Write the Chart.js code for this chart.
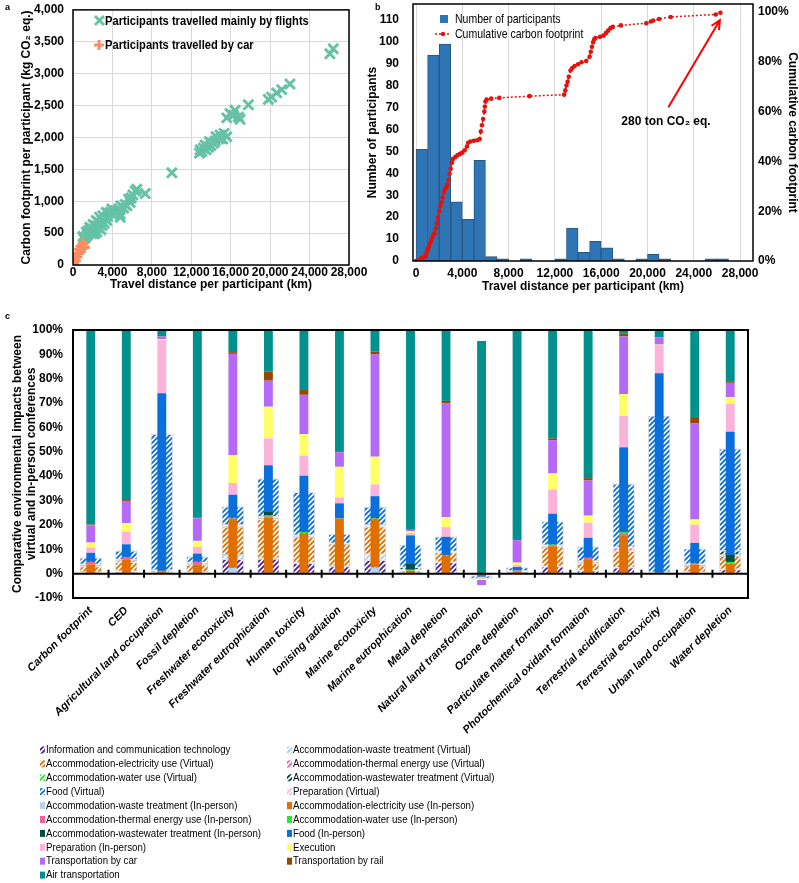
<!DOCTYPE html>
<html>
<head>
<meta charset="utf-8">
<title>Conference travel and environmental impacts</title>
<script src="https://cdn.jsdelivr.net/npm/chart.js@4.4.1/dist/chart.umd.min.js"></script>
<style>
  html, body { margin: 0; padding: 0; background: #fff; }
  body { position: relative; width: 799px; height: 883px; overflow: hidden; }
  canvas { position: absolute; }
  #chartA { left: 0; top: 0; }
  #chartB { left: 350px; top: 0; }
  #chartC { left: 0; top: 300px; }
</style>
</head>
<body>
<canvas id="chartC" width="799" height="583"></canvas>
<canvas id="chartA" width="392" height="300"></canvas>
<canvas id="chartB" width="449" height="300"></canvas>
<script>
// ---------- panel a : footprint per participant vs distance ----------
const flightKm = [26400, 26060, 22010, 21170, 20660, 20150, 19820, 17790, 16950, 16440, 16270, 15930, 15600, 16780,
  15600, 15330, 15190, 14920, 14750, 14420, 14250, 13980, 13740, 13500, 13230, 13070, 12830, 12900, 13400, 13840,
  14520, 14990, 10030, 7330, 6310, 6480, 6080, 5900, 5810, 5640, 5470, 5300, 5130, 4790, 4790, 4460, 4120, 3780,
  3510, 3270, 2940, 2770, 2600, 2430, 2260, 2090, 1920, 1760, 1590, 1420, 1250, 1080, 1010, 1350, 1690, 2030, 2360,
  2700, 3040, 3380, 3950, 4290, 4620, 4860, 1590, 1920, 2260, 2600, 2940, 3170, 2190, 2430, 2840, 3440];
const flightKg = [3390, 3313, 2838, 2750, 2699, 2632, 2596, 2513, 2286, 2425, 2348, 2374, 2307, 2322,
  2012, 2064, 1976, 2038, 1976, 1945, 1909, 1873, 1847, 1806, 1832, 1780, 1754, 1806, 1883, 1935,
  2012, 1986, 1445, 1120, 1161, 1187, 1099, 1050, 980, 1032, 929, 950, 893, 800, 749, 841, 774, 826,
  759, 722, 697, 645, 671, 593, 619, 542, 568, 516, 490, 464, 428, 413, 449, 516, 593, 635, 697,
  748, 774, 826, 877, 851, 877, 929, 542, 490, 542, 593, 619, 655, 490, 516, 552, 697];
const carKm = [70, 240, 400, 570, 680, 810, 1010, 1150, 910];
const carKg = [26, 67, 129, 181, 243, 294, 335, 273, 258];
const distTicks = [0, 4000, 8000, 12000, 16000, 20000, 24000, 28000];
const co2Ticks = [0, 500, 1000, 1500, 2000, 2500, 3000, 3500, 4000];

// ---------- panel b : histogram + cumulative footprint ----------
const binKm = [500, 1500, 2500, 3500, 4500, 5500, 6500, 7500, 9500, 12500, 13500, 14500, 15500, 16500, 17500,
  19500, 20500, 21500, 25500, 26500];
const binCount = [51, 94, 99, 27, 19, 46, 2, 1, 1, 1, 15, 4, 9, 6, 1, 1, 3, 1, 1, 1];
const cumKm = [0, 300, 500, 700, 800, 900, 1000, 1100, 1200, 1300, 1400, 1500, 1600, 1700, 1800, 1900, 2000,
  2100, 2200, 2300, 2400, 2500, 2600, 2700, 2800, 2900, 3000, 3100, 3200, 3400, 3600, 3800, 4000, 4200, 4400,
  4500, 4700, 5000, 5300, 5500, 5600, 5700, 5800, 5900, 5950, 6000, 6100, 6500, 7200, 9800, 12800, 12900, 13000,
  13100, 13200, 13350, 13500, 13700, 14000, 14300, 14700, 15000, 15100, 15200, 15300, 15400, 15500, 15900,
  16200, 16400, 16600, 16800, 17000, 17700, 19900, 20300, 20500, 21000, 22000, 25900, 26300];
const cumShare = [0, 0.5, 1.2, 1.5, 2.0, 3.2, 4.5, 5.5, 7, 8, 9.5, 10.5, 11, 13, 15, 17.5, 20,
  22, 23.5, 25.5, 27.5, 28.8, 29.5, 30.5, 32.5, 35, 37, 39.5, 41, 41.8, 42.5, 43, 43.5, 44.5, 46,
  47.5, 48, 48.3, 48.5, 49, 52, 54.5, 57, 60, 62, 64, 64.8, 65.2, 65.5, 66.2, 66.8, 68.5, 70.5,
  72, 74, 76.5, 77.5, 78.3, 79, 79.8, 80.3, 82, 84, 86, 87.8, 89, 89.5, 90,
  90.5, 91.5, 92.5, 93.5, 94, 94.6, 95.5, 96.2, 96.6, 97.2, 98, 99, 99.7];
const countTicks = [0, 10, 20, 30, 40, 50, 60, 70, 80, 90, 100, 110];
const shareTicks = [0, 20, 40, 60, 80, 100];

// ---------- panel c : virtual vs in-person, share of in-person total (%) ----------
const impactCategories = ['Carbon footprint', 'CED', 'Agricultural land occupation', 'Fossil depletion',
  'Freshwater ecotoxicity', 'Freshwater eutrophication', 'Human toxicity', 'Ionising radiation',
  'Marine ecotoxicity', 'Marine eutrophication', 'Metal depletion', 'Natural land transformation',
  'Ozone depletion', 'Particulate matter formation', 'Photochemical oxidant formation',
  'Terrestrial acidification', 'Terrestrial ecotoxicity', 'Urban land occupation', 'Water depletion'];
const pctTicks = [-10, 0, 10, 20, 30, 40, 50, 60, 70, 80, 90, 100];

// virtual conference
const ictV        = [0.6, 0.8, 0.2, 0.5, 5.9, 6.0, 4.3, 3.0, 5.5, 0.2, 4.6, -0.1, 0.2, 2.8, 1.2, 2.4, 0.1, 0.4, 1.7];
const wasteV      = [0.1, 0.2, 0.05, 0.1, 1.8, 0.3, 0.2, 0.1, 2.4, 0.1, 0.1, -0.05, 0.05, 0.1, 0.1, 0.1, 0.05, 0.1, 0.1];
const elecV       = [2.3, 3.7, 1.0, 3.0, 11.5, 15.9, 10.6, 9.1, 11.4, 0.9, 4.0, -0.6, 0.6, 8.1, 2.9, 6.7, 0.2, 2.6, 5.4];
const thermalV    = [0.6, 0.9, 0.1, 0.9, 0.6, 0.6, 0.4, 0.1, 0.5, 0.1, 0.3, -0.1, 0.2, 0.3, 0.8, 1.4, 0.05, 0.4, 0.2];
const waterV      = [0.05, 0.05, 0.05, 0.05, 0.1, 0.2, 0.1, 0.05, 0.1, 0.3, 0.05, 0, 0.05, 0.2, 0.1, 0.1, 0.05, 0.1, 0.2];
const wastewaterV = [0.05, 0.1, 0.05, 0.05, 0.1, 0.3, 0.1, 0.05, 0.1, 1.0, 0.05, 0, 0.05, 0.1, 0.1, 0.1, 0.05, 0.2, 1.8];
const foodV       = [2.7, 3.6, 55.8, 2.4, 7.5, 15.7, 17.7, 3.8, 7.3, 9.2, 6.0, -1.2, 1.4, 9.8, 5.8, 26.0, 64.2, 6.4, 41.8];
const prepV       = [0.2, 0.3, 0.3, 0.2, 0.2, 0.3, 0.2, 0.1, 0.2, 0.1, 0.2, -0.05, 0.1, 0.1, 0.2, 0.2, 0.1, 0.1, 0.2];

// in-person conference
const wasteP      = [0.2, 0.2, 0.1, 0.2, 2.4, 0.3, 0.3, 0.1, 2.6, 0.1, 0.1, 0, 0.1, 0.2, 0.1, 0.1, 0.05, 0.1, 0.1];
const elecP       = [3.6, 5.6, 0.8, 3.5, 20.0, 22.8, 16.0, 22.4, 19.7, 1.0, 7.1, -0.6, 0.8, 11.0, 5.6, 15.3, 0.2, 3.6, 3.8];
const thermalP    = [1.0, 0.9, 0.1, 1.1, 0.2, 0.3, 0.2, 0.05, 0.2, 0.1, 0.1, 0, 0.3, 0.2, 0.7, 1.0, 0.05, 0.2, 0.2];
const waterP      = [0.05, 0.05, 0.05, 0.05, 0.3, 0.5, 0.6, 0.05, 0.3, 0.4, 0.2, 0, 0.05, 0.5, 0.1, 0.7, 0.05, 0.3, 0.7];
const wastewaterP = [0.1, 0.1, 0.1, 0.1, 0.1, 1.4, 0.1, 0.05, 0.2, 2.4, 0.2, 0, 0.05, 0.1, 0.1, 0.05, 0.05, 0.3, 3.0];
const foodP       = [3.6, 5.2, 72.9, 3.3, 9.4, 19.2, 23.0, 6.2, 8.8, 11.7, 7.4, -0.6, 1.4, 12.6, 8.1, 34.7, 81.8, 8.1, 50.4];
const prepP       = [2.2, 5.1, 21.9, 2.7, 4.8, 11.0, 8.2, 2.4, 4.8, 1.0, 4.0, -0.7, 0.8, 9.9, 6.2, 12.9, 11.6, 7.5, 11.6];
const execP       = [2.0, 3.6, 0.3, 2.5, 11.4, 13.0, 8.8, 12.6, 11.4, 0.7, 4.0, -0.6, 1.0, 6.6, 2.9, 8.9, 0.2, 2.1, 2.7];
const carP        = [7.1, 9.1, 1.0, 9.3, 41.6, 10.7, 16.2, 5.9, 42.0, 0.6, 46.8, -2.2, 9.2, 13.7, 14.4, 23.7, 3.0, 39.4, 5.8];
const railP       = [0.3, 0.4, 0.1, 0.3, 0.7, 3.7, 2.0, 0.5, 1.1, 0.05, 1.0, 0, 0.05, 0.7, 1.0, 1.1, 0.1, 2.3, 0.4];
const airP        = [79.9, 69.8, 2.6, 76.9, 9.1, 17.1, 24.6, 49.8, 8.9, 81.9, 29.1, 95.5, 86.2, 44.5, 60.8, 1.6, 2.9, 36.1, 21.3];

// ---------- shared look ----------
const SANS = '"Liberation Sans", Arial, Helvetica, sans-serif';
Chart.defaults.font.family = SANS;
Chart.defaults.color = '#000';
Chart.defaults.animation = false;

const FLIGHT_GREEN = '#66C2A5';
const CAR_ORANGE = '#FC8D62';
const BAR_BLUE = '#2E75B6';
const BAR_EDGE = '#2A5782';
const CUM_RED = '#E3120B';
const GRID = '#d9d9d9';
const tickFont = { size: 12, weight: 'bold' };
const titleFont = { size: 12, weight: 'bold' };

const fmt = v => v.toLocaleString('en-US');
const useTicks = list => scale => { scale.ticks = list.map(value => ({ value })); };

// fixed axis box sizes so the plot areas line up with the original figure
function fitBox(width, height) {
  return scale => {
    if (width !== null) scale.width = width;
    if (height !== null) scale.height = height;
    scale.paddingLeft = scale.paddingRight = scale.paddingTop = scale.paddingBottom = 0;
  };
}

// the original uses a condensed face for legends
function narrowText(ctx, text, x, y, size, weight) {
  ctx.save();
  ctx.translate(x, y);
  ctx.scale(0.82, 1);
  ctx.font = `${weight} ${size}px ${SANS}`;
  ctx.textBaseline = 'middle';
  ctx.fillStyle = '#000';
  ctx.fillText(text, 0, 0);
  ctx.restore();
}

const frame = {
  id: 'frame',
  afterDraw(chart, args, opts) {
    const { ctx, chartArea: a } = chart;
    ctx.save();
    ctx.strokeStyle = '#000';
    ctx.lineWidth = opts.width;
    ctx.strokeRect(a.left, a.top, a.width, a.height);
    ctx.font = `bold 9px ${SANS}`;
    ctx.textBaseline = 'middle';
    ctx.fillStyle = '#000';
    ctx.fillText(opts.letter, opts.letterX, opts.letterY);
    ctx.restore();
  }
};

// ---------- panel a ----------
const legendA = {
  id: 'legendA',
  afterDraw(chart) {
    const { ctx } = chart;
    ctx.save();
    ctx.lineWidth = 2.8;
    ctx.strokeStyle = FLIGHT_GREEN;
    ctx.beginPath();
    ctx.moveTo(95, 16); ctx.lineTo(104, 25);
    ctx.moveTo(104, 16); ctx.lineTo(95, 25);
    ctx.stroke();
    ctx.strokeStyle = CAR_ORANGE;
    ctx.lineWidth = 3;
    ctx.beginPath();
    ctx.moveTo(94, 45); ctx.lineTo(104, 45);
    ctx.moveTo(99, 40); ctx.lineTo(99, 50);
    ctx.stroke();
    ctx.restore();
    narrowText(ctx, 'Participants travelled mainly by flights', 105, 21, 13.6, 'bold');
    narrowText(ctx, 'Participants travelled by car', 105, 45, 13.6, 'bold');
  }
};

new Chart(document.getElementById('chartA'), {
  type: 'scatter',
  data: {
    datasets: [
      {
        label: 'Participants travelled by car',
        data: carKm.map((x, i) => ({ x, y: carKg[i] })),
        pointStyle: 'cross', pointRadius: 5.5, pointBorderWidth: 3,
        pointBorderColor: CAR_ORANGE, pointBackgroundColor: CAR_ORANGE, order: 0
      },
      {
        label: 'Participants travelled mainly by flights',
        data: flightKm.map((x, i) => ({ x, y: flightKg[i] })),
        pointStyle: 'crossRot', pointRadius: 7, pointBorderWidth: 2.9,
        pointBorderColor: FLIGHT_GREEN, pointBackgroundColor: FLIGHT_GREEN, order: 1
      }
    ]
  },
  options: {
    responsive: false,
    events: [],
    layout: { padding: { left: 0, top: 3, right: 43, bottom: 0 } },
    plugins: {
      legend: { display: false },
      tooltip: { enabled: false },
      frame: { width: 1.5, letter: 'a', letterX: 5, letterY: 8 }
    },
    scales: {
      x: {
        type: 'linear', min: 0, max: 28000,
        afterBuildTicks: useTicks(distTicks),
        afterFit: fitBox(null, 35),
        grid: { color: GRID, drawTicks: false },
        border: { display: false },
        ticks: { padding: 0, font: tickFont, maxRotation: 0, autoSkip: false, callback: v => fmt(v) },
        title: { display: true, text: 'Travel distance per participant (km)', font: titleFont, padding: { top: 0, bottom: 8 } }
      },
      y: {
        min: 0, max: 4000,
        afterBuildTicks: useTicks(co2Ticks),
        afterFit: fitBox(73, null),
        grid: { color: GRID, drawTicks: false },
        border: { display: false },
        ticks: { padding: 9, font: tickFont, callback: v => fmt(v) },
        title: { display: true, text: 'Carbon footprint per participant (kg CO\u2082 eq.)', font: titleFont, padding: { top: 19, bottom: 0 } }
      }
    }
  },
  plugins: [frame, legendA]
});

// ---------- panel b ----------
const extrasB = {
  id: 'extrasB',
  afterDraw(chart) {
    const { ctx, scales: { x, y2 } } = chart;
    // legend
    ctx.save();
    ctx.fillStyle = BAR_BLUE;
    ctx.fillRect(90, 15, 8, 8);
    ctx.strokeStyle = CUM_RED;
    ctx.lineWidth = 1.4;
    ctx.setLineDash([2, 2]);
    ctx.beginPath(); ctx.moveTo(85, 34); ctx.lineTo(101, 34); ctx.stroke();
    ctx.setLineDash([]);
    ctx.fillStyle = CUM_RED;
    ctx.beginPath(); ctx.arc(93, 34, 2.2, 0, Math.PI * 2); ctx.fill();
    ctx.restore();
    narrowText(ctx, 'Number of participants', 105, 19.5, 12.8, 'normal');
    narrowText(ctx, 'Cumulative carbon footprint', 105, 34, 12.8, 'normal');

    // total footprint note with arrow
    const tx = x.getPixelForValue(21800), ty = y2.getPixelForValue(61.7);
    const hx = x.getPixelForValue(26250), hy = y2.getPixelForValue(96.7);
    const ang = Math.atan2(hy - ty, hx - tx);
    ctx.save();
    ctx.strokeStyle = '#ff0000';
    ctx.lineWidth = 2;
    ctx.beginPath();
    ctx.moveTo(tx, ty); ctx.lineTo(hx, hy);
    ctx.moveTo(hx - 10 * Math.cos(ang - 0.45), hy - 10 * Math.sin(ang - 0.45));
    ctx.lineTo(hx, hy);
    ctx.lineTo(hx - 10 * Math.cos(ang + 0.45), hy - 10 * Math.sin(ang + 0.45));
    ctx.stroke();
    ctx.fillStyle = '#000';
    ctx.font = `bold 12px ${SANS}`;
    ctx.textAlign = 'center';
    ctx.textBaseline = 'middle';
    ctx.fillText('280 ton CO\u2082 eq.', x.getPixelForValue(21600), y2.getPixelForValue(56));
    ctx.restore();
  }
};

new Chart(document.getElementById('chartB'), {
  type: 'bar',
  data: {
    datasets: [
      {
        type: 'line',
        label: 'Cumulative carbon footprint',
        data: cumKm.map((x, i) => ({ x, y: cumShare[i] })),
        yAxisID: 'y2',
        borderColor: CUM_RED, borderWidth: 1.5, borderDash: [2, 2],
        pointRadius: 2.3, pointBorderWidth: 0, pointBackgroundColor: CUM_RED,
        order: 0
      },
      {
        type: 'bar',
        label: 'Number of participants',
        data: binKm.map((x, i) => ({ x, y: binCount[i] })),
        yAxisID: 'y',
        backgroundColor: BAR_BLUE, borderColor: BAR_EDGE, borderWidth: 1,
        barPercentage: 1, categoryPercentage: 1,
        order: 1
      }
    ]
  },
  options: {
    responsive: false,
    events: [],
    layout: { padding: { left: 0, top: 3, right: 0, bottom: 0 } },
    plugins: {
      legend: { display: false },
      tooltip: { enabled: false },
      frame: { width: 1.5, letter: 'b', letterX: 25, letterY: 8 }
    },
    scales: {
      x: {
        type: 'linear', offset: false, min: -260, max: 29115,
        afterBuildTicks: useTicks(distTicks),
        afterFit: fitBox(null, 39),
        grid: { color: GRID, drawTicks: false, offset: false },
        border: { display: false },
        ticks: { padding: 5, font: tickFont, maxRotation: 0, autoSkip: false, callback: v => fmt(v) },
        title: { display: true, text: 'Travel distance per participant (km)', font: titleFont, padding: { top: 0, bottom: 6 } }
      },
      y: {
        position: 'left', min: 0, max: 117.3,
        afterBuildTicks: useTicks(countTicks),
        afterFit: fitBox(63, null),
        grid: { display: false, drawTicks: false },
        border: { display: false },
        ticks: { padding: 14, font: tickFont },
        title: { display: true, text: 'Number of participants', font: titleFont, padding: { top: 15, bottom: 0 } }
      },
      y2: {
        position: 'right', min: 0, max: 103.2,
        afterBuildTicks: useTicks(shareTicks),
        afterFit: fitBox(46, null),
        grid: { display: false, drawTicks: false },
        border: { display: false },
        ticks: { padding: 5, font: tickFont, callback: v => v + '%' },
        title: { display: true, text: 'Cumulative carbon footprint', font: titleFont, padding: { top: -1, bottom: 0 } }
      }
    }
  },
  plugins: [extrasB, frame]
});

// ---------- panel c ----------
const ctxC = document.getElementById('chartC').getContext('2d');

function hatch(color) {
  const tile = document.createElement('canvas');
  tile.width = tile.height = 5;
  const g = tile.getContext('2d');
  g.fillStyle = '#fff';
  g.fillRect(0, 0, 5, 5);
  g.strokeStyle = color;
  g.lineWidth = 1.8;
  g.beginPath();
  g.moveTo(-1, 6); g.lineTo(6, -1);
  g.moveTo(-1, 1); g.lineTo(1, -1);
  g.moveTo(4, 6); g.lineTo(6, 4);
  g.stroke();
  return ctxC.createPattern(tile, 'repeat');
}

const virtualSeries = [
  ['Information and communication technology', ictV, '#4d1d9a'],
  ['Accommodation-waste treatment (Virtual)', wasteV, '#a9cff0'],
  ['Accommodation-electricity use (Virtual)', elecV, '#e06f00'],
  ['Accommodation-thermal energy use (Virtual)', thermalV, '#f2609f'],
  ['Accommodation-water use (Virtual)', waterV, '#2be62b'],
  ['Accommodation-wastewater treatment (Virtual)', wastewaterV, '#004f45'],
  ['Food (Virtual)', foodV, '#0a6edb'],
  ['Preparation (Virtual)', prepV, '#fbb3da']
];
const inPersonSeries = [
  ['Accommodation-waste treatment (In-person)', wasteP, '#b3d5f2'],
  ['Accommodation-electricity use (In-person)', elecP, '#e06f00'],
  ['Accommodation-thermal energy use (In-person)', thermalP, '#f2609f'],
  ['Accommodation-water use (In-person)', waterP, '#2be62b'],
  ['Accommodation-wastewater treatment (In-person)', wastewaterP, '#004f45'],
  ['Food (In-person)', foodP, '#0a6edb'],
  ['Preparation (In-person)', prepP, '#fbb3da'],
  ['Execution', execP, '#ffff66'],
  ['Transportation by car', carP, '#b56af6'],
  ['Transportation by rail', railP, '#974800'],
  ['Air transportation', airP, '#00918e']
];

const datasetsC = [
  ...virtualSeries.map(([label, data, color]) => ({
    label, data, stack: 'virtual', backgroundColor: hatch(color),
    borderColor: '#cccccc', borderWidth: 0.8, borderSkipped: false,
    barPercentage: 0.62, categoryPercentage: 1, grouped: false, order: 1
  })),
  ...inPersonSeries.map(([label, data, color]) => ({
    label, data, stack: 'inperson', backgroundColor: color, borderWidth: 0,
    barPercentage: 0.25, categoryPercentage: 1, grouped: false, order: 0
  }))
];

const axisC = {
  id: 'axisC',
  afterDatasetsDraw(chart) {
    const { ctx, chartArea: a, scales: { x, y } } = chart;
    const y0 = y.getPixelForValue(0);
    const half = (x.getPixelForValue(1) - x.getPixelForValue(0)) / 2;
    ctx.save();
    ctx.strokeStyle = '#000';
    ctx.lineWidth = 2;
    ctx.beginPath();
    ctx.moveTo(a.left, y0); ctx.lineTo(a.right, y0);
    for (let i = 1; i < impactCategories.length; i++) {
      const bx = x.getPixelForValue(i) - half;
      ctx.moveTo(bx, y0 - 4); ctx.lineTo(bx, y0 + 4);
    }
    ctx.stroke();
    ctx.restore();
  },
  afterDraw(chart) {
    // two-column legend below the x labels
    const { ctx } = chart;
    const items = datasetsC.map(d => ({ label: d.label, fill: d.backgroundColor }));
    items.forEach((it, k) => {
      const col = k % 2, row = Math.floor(k / 2);
      const sx = col === 0 ? 40 : 287;
      const sy = 450 + row * 13.9;
      ctx.save();
      ctx.fillStyle = it.fill;
      ctx.fillRect(sx, sy - 3.5, 5, 7);
      ctx.restore();
      narrowText(ctx, it.label, sx + 6, sy, 11.8, 'normal');
    });
  }
};

new Chart(ctxC, {
  type: 'bar',
  data: { labels: impactCategories, datasets: datasetsC },
  options: {
    responsive: false,
    events: [],
    layout: { padding: { left: 0, top: 30, right: 51, bottom: 135 } },
    plugins: {
      legend: { display: false },
      tooltip: { enabled: false },
      frame: { width: 2, letter: 'c', letterX: 5, letterY: 17 }
    },
    scales: {
      x: {
        afterFit: fitBox(null, 150),
        grid: { display: false, drawTicks: false },
        border: { display: false },
        ticks: { padding: 6, minRotation: 45, maxRotation: 45, autoSkip: false, font: { size: 11, weight: 'bold', style: 'italic' } }
      },
      y: {
        stacked: true, min: -10, max: 100,
        afterBuildTicks: useTicks(pctTicks),
        afterFit: fitBox(73, null),
        grid: { display: false, drawTicks: false },
        border: { display: false },
        ticks: { padding: 10, font: tickFont, callback: v => v + '%' },
        title: {
          display: true,
          text: ['Comparative environmental impacts between', 'virtual and in-person conferences'],
          font: { size: 12, weight: 'bold', lineHeight: 1.2 },
          padding: { top: 10, bottom: 0 }
        }
      }
    }
  },
  plugins: [axisC, frame]
});
</script>
</body>
</html>
